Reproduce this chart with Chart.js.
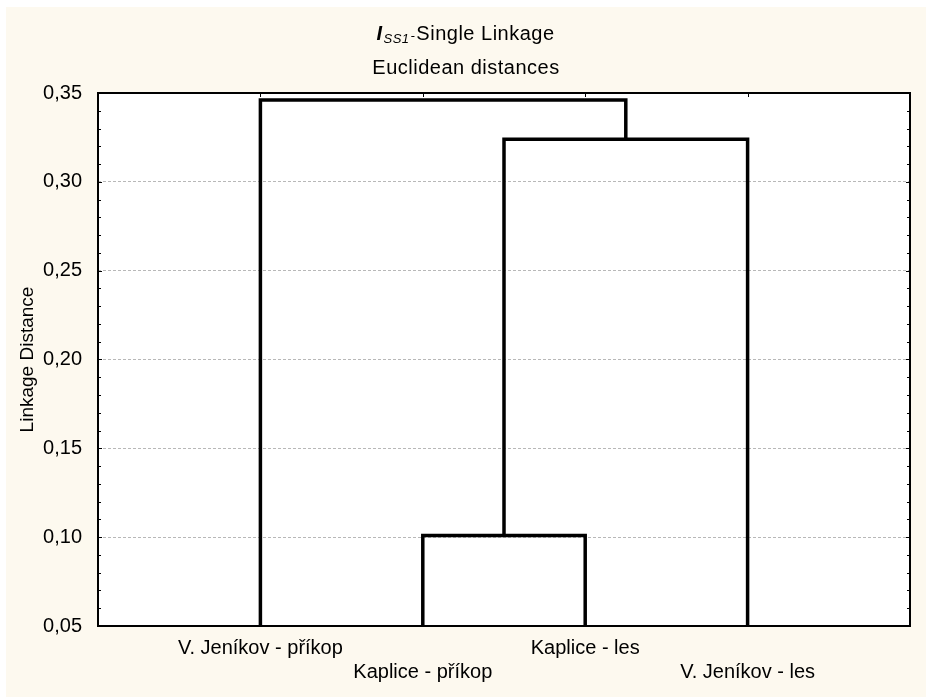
<!DOCTYPE html>
<html>
<head>
<meta charset="utf-8">
<script src="https://cdn.jsdelivr.net/npm/chart.js@4.4.1/dist/chart.umd.min.js"></script>
<style>
  html, body { margin: 0; padding: 0; background: #ffffff; }
  canvas { display: block; }
</style>
</head>
<body>
<canvas id="tree" width="926" height="697"></canvas>
<script>
// leaves in dendrogram order (left to right)
var leaves = ['V. Jeníkov - příkop', 'Kaplice - příkop', 'Kaplice - les', 'V. Jeníkov - les'];
// linkage steps: node ids 0..3 are leaves, each step creates node 4, 5, 6 ...
var mergeLeft = [1, 4, 0];
var mergeRight = [2, 3, 5];
var mergeHeight = [0.101, 0.324, 0.346];
// axis ticks
var yTicks = [0.05, 0.10, 0.15, 0.20, 0.25, 0.30, 0.35];
var yMinorStep = 0.01;

var CREAM = '#fdf9ef';

// node positions: leaves sit on integer x, merged nodes in the middle of their children
var nodeX = leaves.map(function (_, i) { return i + 1; });
var nodeH = leaves.map(function () { return 0; });
var datasets = [];
for (var k = 0; k < mergeHeight.length; k++) {
  var l = mergeLeft[k], r = mergeRight[k], h = mergeHeight[k];
  datasets.push({
    data: [
      { x: nodeX[l], y: nodeH[l] },
      { x: nodeX[l], y: h },
      { x: nodeX[r], y: h },
      { x: nodeX[r], y: nodeH[r] }
    ],
    borderColor: '#000000',
    borderWidth: 3.5,
    borderJoinStyle: 'miter',
    borderCapStyle: 'butt',
    pointRadius: 0,
    tension: 0,
    fill: false,
    clip: 0
  });
  nodeX.push((nodeX[l] + nodeX[r]) / 2);
  nodeH.push(h);
}

function fmt(v) {
  return v.toFixed(2).replace('.', ',');
}

// cream page with a thin white margin, white plot area
var backdrop = {
  id: 'backdrop',
  beforeDraw: function (chart) {
    var ctx = chart.ctx, a = chart.chartArea;
    ctx.save();
    ctx.fillStyle = '#ffffff';
    ctx.fillRect(0, 0, chart.width, chart.height);
    ctx.fillStyle = CREAM;
    ctx.fillRect(6, 7, chart.width - 6, chart.height - 7);
    ctx.fillStyle = '#ffffff';
    ctx.fillRect(a.left, a.top, a.right - a.left, a.bottom - a.top);
    ctx.restore();
  }
};

// frame around the plot with small inward tick marks
var frame = {
  id: 'frame',
  afterDraw: function (chart) {
    var ctx = chart.ctx, a = chart.chartArea;
    var ys = chart.scales.y, xs = chart.scales.x;
    ctx.save();
    ctx.strokeStyle = '#000000';
    ctx.lineWidth = 1;
    ctx.beginPath();
    var n = Math.round((ys.max - ys.min) / yMinorStep);
    for (var i = 1; i < n; i++) {
      var py = Math.round(ys.getPixelForValue(ys.min + i * yMinorStep)) + 0.5;
      var len = (i % 5 === 0) ? 4 : 3;
      ctx.moveTo(a.left, py); ctx.lineTo(a.left + len, py);
      ctx.moveTo(a.right, py); ctx.lineTo(a.right - len, py);
    }
    leaves.forEach(function (_, j) {
      var px = Math.round(xs.getPixelForValue(j + 1)) + 0.5;
      ctx.moveTo(px, a.top); ctx.lineTo(px, a.top + 4);
    });
    ctx.stroke();
    ctx.lineWidth = 2;
    ctx.strokeRect(a.left, a.top, a.right - a.left, a.bottom - a.top);
    ctx.restore();
  }
};

// two-line heading, the index name with a subscript
var heading = {
  id: 'heading',
  afterDraw: function (chart) {
    var ctx = chart.ctx;
    var cx = 466;
    var family = '"Liberation Sans", Arial, sans-serif';
    ctx.save();
    ctx.fillStyle = '#000000';
    ctx.textBaseline = 'alphabetic';
    ctx.textAlign = 'left';
    ctx.letterSpacing = '0.5px';

    var parts = [
      { t: 'I', f: 'italic bold 20px ' + family, dy: 0 },
      { t: 'SS1', f: 'italic 13px ' + family, dy: 3 },
      { t: '-', f: 'italic 13px ' + family, dy: 0 },
      { t: 'Single Linkage', f: '20px ' + family, dy: 0 }
    ];
    var total = 0;
    parts.forEach(function (p) { ctx.font = p.f; p.w = ctx.measureText(p.t).width + 1; total += p.w; });
    var x = cx - total / 2;
    parts.forEach(function (p) {
      ctx.font = p.f;
      ctx.fillText(p.t, x, 40 + p.dy);
      x += p.w;
    });

    ctx.font = '20px ' + family;
    ctx.textAlign = 'center';
    ctx.fillText('Euclidean distances', cx, 74);
    ctx.restore();
  }
};

Chart.defaults.font.family = '"Liberation Sans", Arial, sans-serif';
Chart.defaults.color = '#000000';

new Chart(document.getElementById('tree').getContext('2d'), {
  type: 'line',
  data: { datasets: datasets },
  plugins: [backdrop, frame, heading],
  options: {
    responsive: false,
    animation: false,
    events: [],
    layout: { padding: { top: 93, right: 16, left: 0, bottom: 0 } },
    plugins: {
      legend: { display: false },
      tooltip: { enabled: false }
    },
    scales: {
      x: {
        type: 'linear',
        position: 'bottom',
        min: 0,
        max: leaves.length + 1,
        afterFit: function (s) { s.height = 71; },
        afterBuildTicks: function (s) {
          s.ticks = leaves.map(function (_, i) { return { value: i + 1 }; });
        },
        grid: { display: false },
        border: { display: false },
        ticks: {
          autoSkip: false,
          maxRotation: 0,
          padding: 2,
          font: { size: 20, lineHeight: 1.2 },
          callback: function (v) {
            var i = Math.round(v) - 1;
            return i % 2 ? ['', leaves[i]] : leaves[i];
          }
        }
      },
      y: {
        position: 'left',
        min: yTicks[0],
        max: yTicks[yTicks.length - 1],
        afterFit: function (s) { s.width = 98; },
        afterBuildTicks: function (s) {
          s.ticks = yTicks.map(function (v) { return { value: v }; });
        },
        grid: {
          drawTicks: false,
          lineWidth: 1,
          color: function (c) {
            var v = c.tick ? c.tick.value : 0;
            return (v > yTicks[0] + 0.001 && v < yTicks[yTicks.length - 1] - 0.001) ? '#b8b8b8' : 'rgba(0,0,0,0)';
          }
        },
        border: { display: false, dash: [3, 2] },
        title: {
          display: true,
          text: 'Linkage Distance',
          font: { size: 19 },
          padding: { top: 16, bottom: 0 }
        },
        ticks: {
          padding: 16,
          font: { size: 20 },
          callback: function (v) { return fmt(v); }
        }
      }
    }
  }
});
</script>
</body>
</html>
